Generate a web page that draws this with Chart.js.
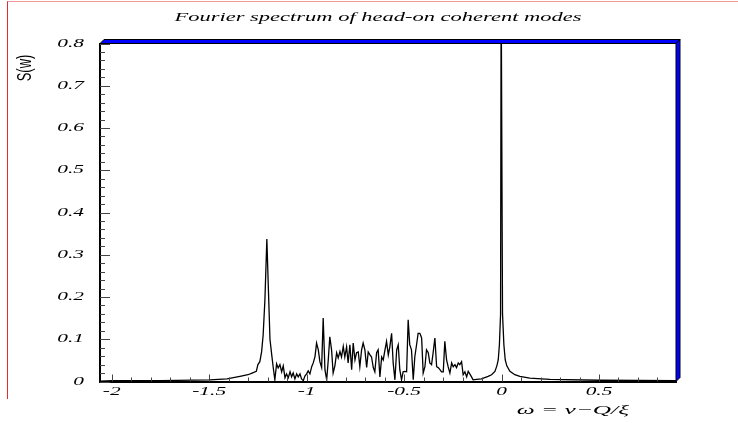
<!DOCTYPE html>
<html>
<head>
<meta charset="utf-8">
<title>Fourier spectrum of head-on coherent modes</title>
<script src="https://cdn.jsdelivr.net/npm/chart.js@4.4.1/dist/chart.umd.min.js"></script>
<style>
  html, body { margin: 0; padding: 0; background: #fff; }
  #wrap { position: relative; width: 738px; height: 423px; overflow: hidden; }
  #frame {
    position: absolute; left: 7px; top: 1px; width: 731px; height: 397px;
    border-left: 1px solid #e52b2b; border-top: 1px solid #f29a9a;
    pointer-events: none;
  }
  canvas { position: absolute; left: 0; top: 0; }
</style>
</head>
<body>
<div id="wrap">
  <canvas id="chart" width="738" height="423"></canvas>
  <div id="frame"></div>
</div>
<script>
// frequency axis (omega) and spectrum amplitude
const omega = [
  -2.06, -1.998, -1.752, -1.496, -1.409, -1.342, -1.301, -1.28, -1.258, -1.25,
  -1.24, -1.231, -1.223, -1.214, -1.204, -1.196, -1.188, -1.179, -1.171, -1.163,
  -1.154, -1.146, -1.137, -1.128, -1.12, -1.111, -1.103, -1.094, -1.085, -1.077,
  -1.069, -1.06, -1.051, -1.043, -1.034, -1.026, -1.017, -1.009, -1.0, -0.992,
  -0.983, -0.974, -0.966, -0.957, -0.949, -0.94, -0.932, -0.923, -0.915, -0.906,
  -0.897, -0.889, -0.881, -0.872, -0.864, -0.855, -0.846, -0.838, -0.829, -0.821,
  -0.812, -0.804, -0.795, -0.787, -0.778, -0.769, -0.761, -0.752, -0.744, -0.735,
  -0.727, -0.718, -0.71, -0.701, -0.692, -0.684, -0.675, -0.667, -0.658, -0.65,
  -0.641, -0.633, -0.624, -0.615, -0.607, -0.598, -0.59, -0.581, -0.573, -0.564,
  -0.556, -0.547, -0.538, -0.53, -0.522, -0.513, -0.505, -0.496, -0.487, -0.479,
  -0.471, -0.462, -0.453, -0.445, -0.436, -0.428, -0.419, -0.41, -0.402, -0.393,
  -0.385, -0.376, -0.368, -0.359, -0.351, -0.342, -0.333, -0.325, -0.316, -0.308,
  -0.299, -0.291, -0.282, -0.274, -0.265, -0.256, -0.248, -0.239, -0.231, -0.222,
  -0.214, -0.205, -0.197, -0.188, -0.179, -0.171, -0.163, -0.154, -0.146, -0.128,
  -0.103, -0.086, -0.069, -0.051, -0.034, -0.024, -0.017, -0.011, -0.005, -0.002,
  0.002, 0.005, 0.012, 0.019, 0.027, 0.043, 0.068, 0.094, 0.145,
  0.248, 0.504, 0.895
];
const spectrum = [
  0.001, 0.002, 0.002, 0.004, 0.006, 0.012, 0.016, 0.02, 0.024, 0.04,
  0.047, 0.07, 0.11, 0.193, 0.337, 0.217, 0.1, 0.063, 0.032, 0.004,
  0.042, 0.032, 0.04, 0.023, 0.037, 0.009, 0.018, 0.009, 0.023, 0.011,
  0.02, 0.006, 0.018, 0.011, 0.018, 0.006, 0.002, 0.013, 0.018, 0.025,
  0.018, 0.035, 0.044, 0.059, 0.091, 0.075, 0.047, 0.033, 0.15, 0.028,
  0.004, 0.051, 0.106, 0.075, 0.02, 0.037, 0.068, 0.056, 0.071, 0.058,
  0.083, 0.058, 0.082, 0.044, 0.087, 0.028, 0.091, 0.051, 0.068, 0.07,
  0.035, 0.075, 0.091, 0.075, 0.033, 0.07, 0.063, 0.058, 0.033, 0.023,
  0.068, 0.075, 0.011, 0.058, 0.051, 0.075, 0.095, 0.063, 0.082, 0.114,
  0.044, 0.004, 0.075, 0.087, 0.028, 0.004, 0.023, 0.024, 0.023, 0.146,
  0.087, 0.075, 0.004, 0.058, 0.087, 0.114, 0.114, 0.103, 0.02, 0.035,
  0.075, 0.068, 0.044, 0.04, 0.068, 0.103, 0.035, 0.033, 0.028, 0.023,
  0.023, 0.095, 0.051, 0.035, 0.02, 0.044, 0.035, 0.04, 0.033, 0.044,
  0.04, 0.047, 0.016, 0.023, 0.011, 0.024, 0.018, 0.011, 0.004, 0.005,
  0.006, 0.009, 0.012, 0.016, 0.024, 0.037, 0.051, 0.087, 0.16, 0.95,
  0.95, 0.16, 0.087, 0.051, 0.037, 0.024, 0.016, 0.012, 0.008,
  0.005, 0.003, 0.002
];

const xTickValues = [-2, -1.5, -1, -0.5, 0, 0.5];
const yTickValues = [0, 0.1, 0.2, 0.3, 0.4, 0.5, 0.6, 0.7, 0.8];
const xMinorStep = 0.1;
const yMinorStep = 0.02;

const titleText = 'Fourier spectrum of head-on coherent modes';
const xAxisTitle = 'ω = ν−Q/ξ';
const yAxisTitle = 'S(w)';

// draws text stretched horizontally like the old PostScript output
function wideText(ctx, str, x, y, font, sx, align) {
  ctx.save();
  ctx.font = font;
  ctx.textBaseline = 'middle';
  ctx.textAlign = 'left';
  const w = ctx.measureText(str).width * sx;
  let left = x;
  if (align === 'center') left = x - w / 2;
  if (align === 'right') left = x - w;
  ctx.translate(left, y);
  ctx.scale(sx, 1);
  ctx.fillText(str, 0, 0);
  ctx.restore();
}

const framePlugin = {
  id: 'rootFrame',
  afterDraw(chart) {
    const { ctx, chartArea: a, scales } = chart;
    const xs = scales.x, ys = scales.y;
    ctx.save();

    // tick marks, pointing into the plot
    ctx.strokeStyle = '#444';
    ctx.lineWidth = 1;
    ctx.beginPath();
    for (let i = 0; i * yMinorStep <= ys.max + 1e-9; i++) {
      const py = Math.round(ys.getPixelForValue(i * yMinorStep)) + 0.5;
      const len = i % 5 === 0 ? 10 : 5;
      ctx.moveTo(a.left, py);
      ctx.lineTo(a.left + len, py);
    }
    for (let i = -20; i * xMinorStep <= xs.max + 1e-9; i++) {
      const px = Math.round(xs.getPixelForValue(i * xMinorStep)) + 0.5;
      const len = i % 5 === 0 ? 7 : 4;
      ctx.moveTo(px, a.bottom);
      ctx.lineTo(px, a.bottom - len);
    }
    ctx.stroke();

    // blue bevelled frame on top and right
    const d = 4;
    ctx.fillStyle = '#0000ff';
    ctx.strokeStyle = '#000';
    ctx.lineWidth = 1;
    ctx.beginPath();
    ctx.moveTo(a.left, a.top);
    ctx.lineTo(a.left + d, a.top - d);
    ctx.lineTo(a.right + d, a.top - d);
    ctx.lineTo(a.right, a.top);
    ctx.closePath();
    ctx.fill();
    ctx.stroke();
    ctx.beginPath();
    ctx.moveTo(a.right, a.top);
    ctx.lineTo(a.right + d, a.top - d);
    ctx.lineTo(a.right + d, a.bottom - d);
    ctx.lineTo(a.right, a.bottom);
    ctx.closePath();
    ctx.fill();
    ctx.stroke();

    // tick labels from the library's axis ticks
    ctx.fillStyle = '#000';
    const tickFont = 'italic 12px "Liberation Serif"';
    ys.ticks.forEach(t => {
      const label = String(parseFloat(t.value.toFixed(3)));
      wideText(ctx, label, 84, ys.getPixelForValue(t.value), tickFont, 1.78, 'right');
    });
    xs.ticks.forEach(t => {
      const label = String(parseFloat(t.value.toFixed(3)));
      wideText(ctx, label, xs.getPixelForValue(t.value), a.bottom + 10, tickFont, 1.78, 'center');
    });

    // titles
    wideText(ctx, titleText, 378, 18, 'italic 13px "Liberation Serif"', 1.73, 'center');
    wideText(ctx, xAxisTitle, 629, 411, 'italic 13px "Liberation Serif"', 1.95, 'right');

    ctx.save();
    ctx.translate(25, 68);
    ctx.scale(1.6, 1);
    ctx.rotate(-Math.PI / 2);
    ctx.font = '13px "Liberation Sans"';
    ctx.textAlign = 'center';
    ctx.textBaseline = 'middle';
    ctx.fillText(yAxisTitle, 0, 0);
    ctx.restore();

    ctx.restore();
  }
};

const ctx = document.getElementById('chart').getContext('2d');
new Chart(ctx, {
  type: 'line',
  data: {
    datasets: [{
      data: omega.map((x, i) => ({ x: x, y: spectrum[i] })),
      borderColor: '#000',
      borderWidth: 1.3,
      pointRadius: 0,
      tension: 0,
      fill: false
    }]
  },
  options: {
    responsive: false,
    animation: false,
    layout: { padding: { left: 100, right: 62, top: 43.5, bottom: 41.5 } },
    plugins: {
      legend: { display: false },
      tooltip: { enabled: false },
      title: { display: false }
    },
    scales: {
      x: {
        type: 'linear',
        min: -2.06,
        max: 0.895,
        grid: { display: false, drawTicks: false },
        ticks: { display: false },
        border: { display: true, color: '#000', width: 2 },
        afterBuildTicks: axis => { axis.ticks = xTickValues.map(v => ({ value: v })); }
      },
      y: {
        type: 'linear',
        min: 0,
        max: 0.8,
        grid: { display: false, drawTicks: false },
        ticks: { display: false },
        border: { display: true, color: '#000', width: 2 },
        afterBuildTicks: axis => { axis.ticks = yTickValues.map(v => ({ value: v })); }
      }
    }
  },
  plugins: [framePlugin]
});
</script>
</body>
</html>
